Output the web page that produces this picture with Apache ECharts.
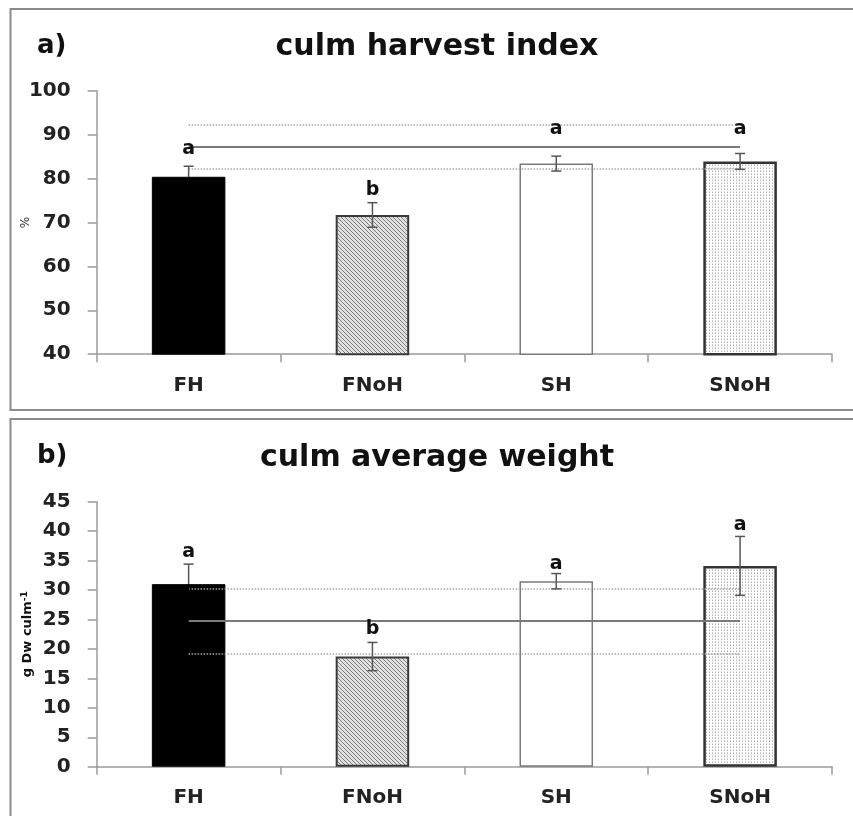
<!DOCTYPE html>
<html><head><meta charset="utf-8">
<script src="https://cdn.jsdelivr.net/npm/echarts@6/dist/echarts.min.js"></script>
<style>html,body{margin:0;padding:0;background:#fff}#c{width:853px;height:816px}</style>
</head><body><div id="c"></div><script>
// ---- data ----
const categories = ['FH', 'FNoH', 'SH', 'SNoH'];

// panel a) culm harvest index (%)
const hiValues = [80.4, 71.7, 83.4, 83.9];
const hiErrors = [2.4, 2.8, 1.7, 1.8];
const hiLetters = ['a', 'b', 'a', 'a'];
const hiLetterY = [86.7, 77.4, 91.3, 91.3];
const hiMeanLine = 87.2;
const hiBandLines = [92.2, 82.3];
const hiAxis = { min: 40, max: 100, interval: 10 };

// panel b) culm average weight (g Dw culm-1)
const wValues = [31.0, 18.7, 31.5, 34.1];
const wErrors = [3.4, 2.4, 1.3, 5.0];
const wLetters = ['a', 'b', 'a', 'a'];
const wLetterY = [36.5, 23.4, 34.4, 41.0];
const wMeanLine = 24.8;
const wBandLines = [30.2, 19.25];
const wAxis = { min: 0, max: 45, interval: 5 };

// ---- patterns ----
function hatchCanvas() {
  const c = document.createElement('canvas'); c.width = 4; c.height = 4;
  const g = c.getContext('2d');
  g.fillStyle = '#e2e2e2'; g.fillRect(0, 0, 4, 4);
  g.strokeStyle = '#7a7a7a'; g.lineWidth = 1;
  g.beginPath();
  g.moveTo(0, 0); g.lineTo(4, 4);
  g.moveTo(-2, 2); g.lineTo(2, 6);
  g.moveTo(2, -2); g.lineTo(6, 2);
  g.stroke();
  return c;
}
function dotCanvas() {
  const c = document.createElement('canvas'); c.width = 3; c.height = 3;
  const g = c.getContext('2d');
  g.fillStyle = '#ffffff'; g.fillRect(0, 0, 3, 3);
  g.fillStyle = '#b4b4b4'; g.fillRect(1, 0, 1, 1); g.fillRect(1, 2, 1, 0.6);
  return c;
}
const barStyles = [
  { color: '#000000', borderColor: '#000000', borderWidth: 1 },
  { color: { image: hatchCanvas(), repeat: 'repeat' }, borderColor: '#3a3a3a', borderWidth: 2 },
  { color: '#ffffff', borderColor: '#7a7a7a', borderWidth: 1.5 },
  { color: { image: dotCanvas(), repeat: 'repeat' }, borderColor: '#333333', borderWidth: 2.5 }
];
const errColors = ['#000000', '#555555', '#555555', '#555555'];

const FONT = 'DejaVu Sans';

function barData(vals) {
  return vals.map((v, i) => ({ value: v, itemStyle: barStyles[i] }));
}
function errData(vals, errs) {
  return vals.map((v, i) => [i, v - errs[i], v + errs[i]]);
}
function errRender(params, api) {
  const x = api.value(0), lo = api.value(1), hi = api.value(2);
  const p1 = api.coord([x, hi]), p2 = api.coord([x, lo]);
  const w = 5;
  const c = errColors[params.dataIndex];
  const st = { stroke: c, lineWidth: 1.5 };
  const top = { stroke: '#555555', lineWidth: 1.5 };
  const bar = api.coord([x, (lo + hi) / 2]);
  return { type: 'group', children: [
    { type: 'line', shape: { x1: p1[0], y1: p1[1], x2: bar[0], y2: bar[1] }, style: top },
    { type: 'line', shape: { x1: bar[0], y1: bar[1], x2: p2[0], y2: p2[1] }, style: st },
    { type: 'line', shape: { x1: p1[0] - w, y1: p1[1], x2: p1[0] + w, y2: p1[1] }, style: top },
    { type: 'line', shape: { x1: p2[0] - w, y1: p2[1], x2: p2[0] + w, y2: p2[1] }, style: st }
  ] };
}
function letterRender(letters) {
  return function (params, api) {
    const p = api.coord([api.value(0), api.value(1)]);
    return { type: 'text', x: p[0], y: p[1], style: {
      text: letters[params.dataIndex], font: 'bold 19px "' + FONT + '"',
      fill: '#111', align: 'center', verticalAlign: 'middle' } };
  };
}
function refLines(mean, bands) {
  const solid = { type: 'solid', color: '#7a7a7a', width: 2 };
  const dot = { type: 'dotted', color: '#a8a8a8', width: 1.5 };
  const seg = (y, ls) => [{ coord: [categories[0], y], lineStyle: ls }, { coord: [categories[3], y] }];
  return { symbol: 'none', silent: true, animation: false, label: { show: false },
    data: [seg(mean, solid), seg(bands[0], dot), seg(bands[1], dot)] };
}

const axisLineStyle = { color: '#9a9a9a', width: 1.5 };
function xAxisCfg(gi, margin) {
  return { type: 'category', gridIndex: gi, data: categories, boundaryGap: true,
    axisLine: { show: true, lineStyle: axisLineStyle },
    axisTick: { show: true, length: 8, lineStyle: axisLineStyle, alignWithLabel: false },
    axisLabel: { fontFamily: FONT, fontWeight: 'bold', fontSize: 20, color: '#222', margin: margin },
    splitLine: { show: false } };
}
function yAxisCfg(gi, ax, name, nameGap, nameStyle) {
  return { type: 'value', gridIndex: gi, min: ax.min, max: ax.max, interval: ax.interval,
    name: name, nameLocation: 'middle', nameGap: nameGap, nameRotate: 90, nameTextStyle: nameStyle,
    nameMoveOverlap: false,
    axisLine: { show: true, lineStyle: axisLineStyle },
    axisTick: { show: true, length: 9, lineStyle: axisLineStyle },
    axisLabel: { fontFamily: FONT, fontWeight: 'bold', fontSize: 20, color: '#222', margin: 26 },
    splitLine: { show: false } };
}

const chart = echarts.init(document.getElementById('c'), null, { renderer: 'canvas' });
chart.setOption({
  animation: false,
  backgroundColor: '#ffffff',
  graphic: [
    { type: 'rect', z: -10, shape: { x: 10.5, y: 9, width: 900, height: 401 }, style: { fill: 'none', stroke: '#8a8a8a', lineWidth: 2 } },
    { type: 'rect', z: -10, shape: { x: 10.5, y: 419, width: 900, height: 500 }, style: { fill: 'none', stroke: '#8a8a8a', lineWidth: 2 } },
    { type: 'text', x: 37, y: 46, style: { text: 'a)', font: 'bold 26px "' + FONT + '"', fill: '#111', align: 'left', verticalAlign: 'middle' } },
    { type: 'text', x: 437, y: 47, style: { text: 'culm harvest index', font: 'bold 30px "' + FONT + '"', fill: '#111', align: 'center', verticalAlign: 'middle' } },
    { type: 'text', x: 37, y: 456, style: { text: 'b)', font: 'bold 26px "' + FONT + '"', fill: '#111', align: 'left', verticalAlign: 'middle' } },
    { type: 'text', x: 437, y: 458, style: { text: 'culm average weight', font: 'bold 30px "' + FONT + '"', fill: '#111', align: 'center', verticalAlign: 'middle' } }
  ],
  grid: [
    { left: 96.7, right: 21, top: 90.7, height: 263.5, containLabel: false },
    { left: 96.7, right: 21, top: 501.7, height: 265, containLabel: false }
  ],
  xAxis: [xAxisCfg(0, 22), xAxisCfg(1, 21)],
  yAxis: [
    yAxisCfg(0, hiAxis, '%', 65, { fontFamily: FONT, fontSize: 12, color: '#333' }),
    yAxisCfg(1, wAxis, 'g Dw culm{sup|-1}', 62, { fontFamily: FONT, fontSize: 13, fontWeight: 'bold', color: '#111',
      rich: { sup: { fontFamily: FONT, fontSize: 9, fontWeight: 'bold', color: '#111', verticalAlign: 'top', padding: [0, 0, 6, 0] } } })
  ],
  series: [
    { type: 'bar', xAxisIndex: 0, yAxisIndex: 0, barWidth: '40%', data: barData(hiValues), markLine: refLines(hiMeanLine, hiBandLines), z: 2 },
    { type: 'custom', xAxisIndex: 0, yAxisIndex: 0, renderItem: errRender, data: errData(hiValues, hiErrors), z: 5 },
    { type: 'custom', xAxisIndex: 0, yAxisIndex: 0, renderItem: letterRender(hiLetters), data: hiLetterY.map((y, i) => [i, y]), z: 6 },
    { type: 'bar', xAxisIndex: 1, yAxisIndex: 1, barWidth: '40%', data: barData(wValues), markLine: refLines(wMeanLine, wBandLines), z: 2 },
    { type: 'custom', xAxisIndex: 1, yAxisIndex: 1, renderItem: errRender, data: errData(wValues, wErrors), z: 5 },
    { type: 'custom', xAxisIndex: 1, yAxisIndex: 1, renderItem: letterRender(wLetters), data: wLetterY.map((y, i) => [i, y]), z: 6 }
  ]
});
</script></body></html>
